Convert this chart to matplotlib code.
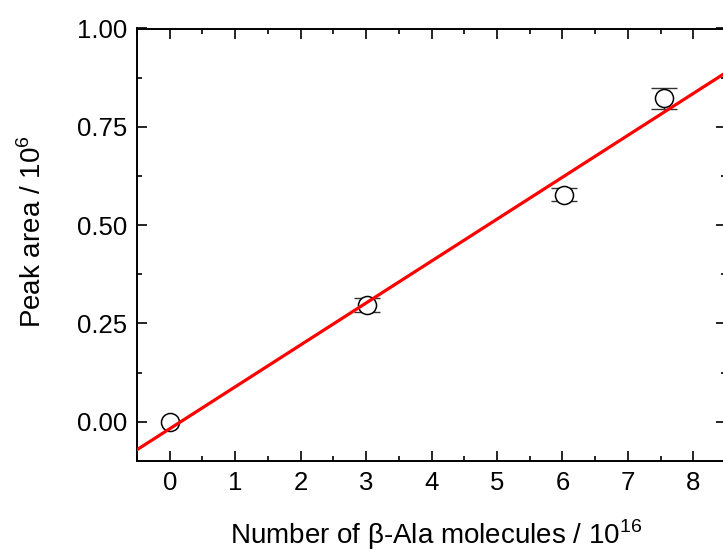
import matplotlib
matplotlib.use("Agg")
import matplotlib.pyplot as plt
import numpy as np
from matplotlib.ticker import MultipleLocator

plt.rcParams['font.family'] = ['Liberation Sans', 'DejaVu Sans']
plt.rcParams['mathtext.fontset'] = 'custom'
plt.rcParams['mathtext.rm'] = 'Liberation Sans'

# data
molecules = [0.0, 3.02, 6.02, 7.56]          # / 1e16
peak_area = [0.0, 0.297, 0.577, 0.822]       # / 1e6
peak_err = [0.0, 0.017, 0.017, 0.027]
fit_slope = 0.1066
fit_intercept = -0.018
x_ticks = [0, 1, 2, 3, 4, 5, 6, 7, 8]
y_ticks = [0.00, 0.25, 0.50, 0.75, 1.00]
y_tick_labels = ['0.00', '0.25', '0.50', '0.75', '1.00']

fig = plt.figure(figsize=(7.23, 5.53), dpi=100)
ax = fig.add_axes([137/723, 1-461/553, (726-137)/723, (461-28.5)/553])

xlim = (-0.5, 8.5)
ylim = (-0.1, 1.0)

xe = [x for x, e in zip(molecules, peak_err) if e > 0]
ye = [y for y, e in zip(peak_area, peak_err) if e > 0]
ee = [e for e in peak_err if e > 0]
ax.errorbar(xe, ye, yerr=ee, fmt='none', ecolor='#333333',
            elinewidth=1.0, capsize=9.5, capthick=1.0, zorder=2)
ax.plot(molecules, peak_area, 'o', ms=13, mfc='white', mec='black', mew=1.1, zorder=3)
xf = np.array(xlim)
ax.plot(xf, fit_slope*xf + fit_intercept, color='#ff0000', lw=2.3, zorder=4)

ax.set_xlim(*xlim)
ax.set_ylim(*ylim)
ax.set_xticks(x_ticks)
ax.xaxis.set_minor_locator(MultipleLocator(0.5))
ax.set_yticks(y_ticks)
ax.set_yticklabels(y_tick_labels)
ax.yaxis.set_minor_locator(MultipleLocator(0.125))

ax.tick_params(which='both', direction='in', top=True, right=True, width=1.2,
               labelsize=18.5, pad=7)
ax.tick_params(which='major', length=7)
ax.tick_params(which='minor', length=3.5)
for s in ax.spines.values():
    s.set_linewidth(1.4)

ax.set_xlabel(r'Number of β-Ala molecules / 10$^{\mathregular{16}}$', fontsize=20)
ax.set_ylabel(r'Peak area / 10$^{\mathregular{6}}$', fontsize=20)
ax.xaxis.set_label_coords((436-137)/589, (461-535)/432.5)
ax.xaxis.label.set_va('center')
ax.yaxis.set_label_coords((33-137)/589, (461-232)/432.5)
ax.yaxis.label.set_va('center')

fig.savefig('out.png', dpi=100)
